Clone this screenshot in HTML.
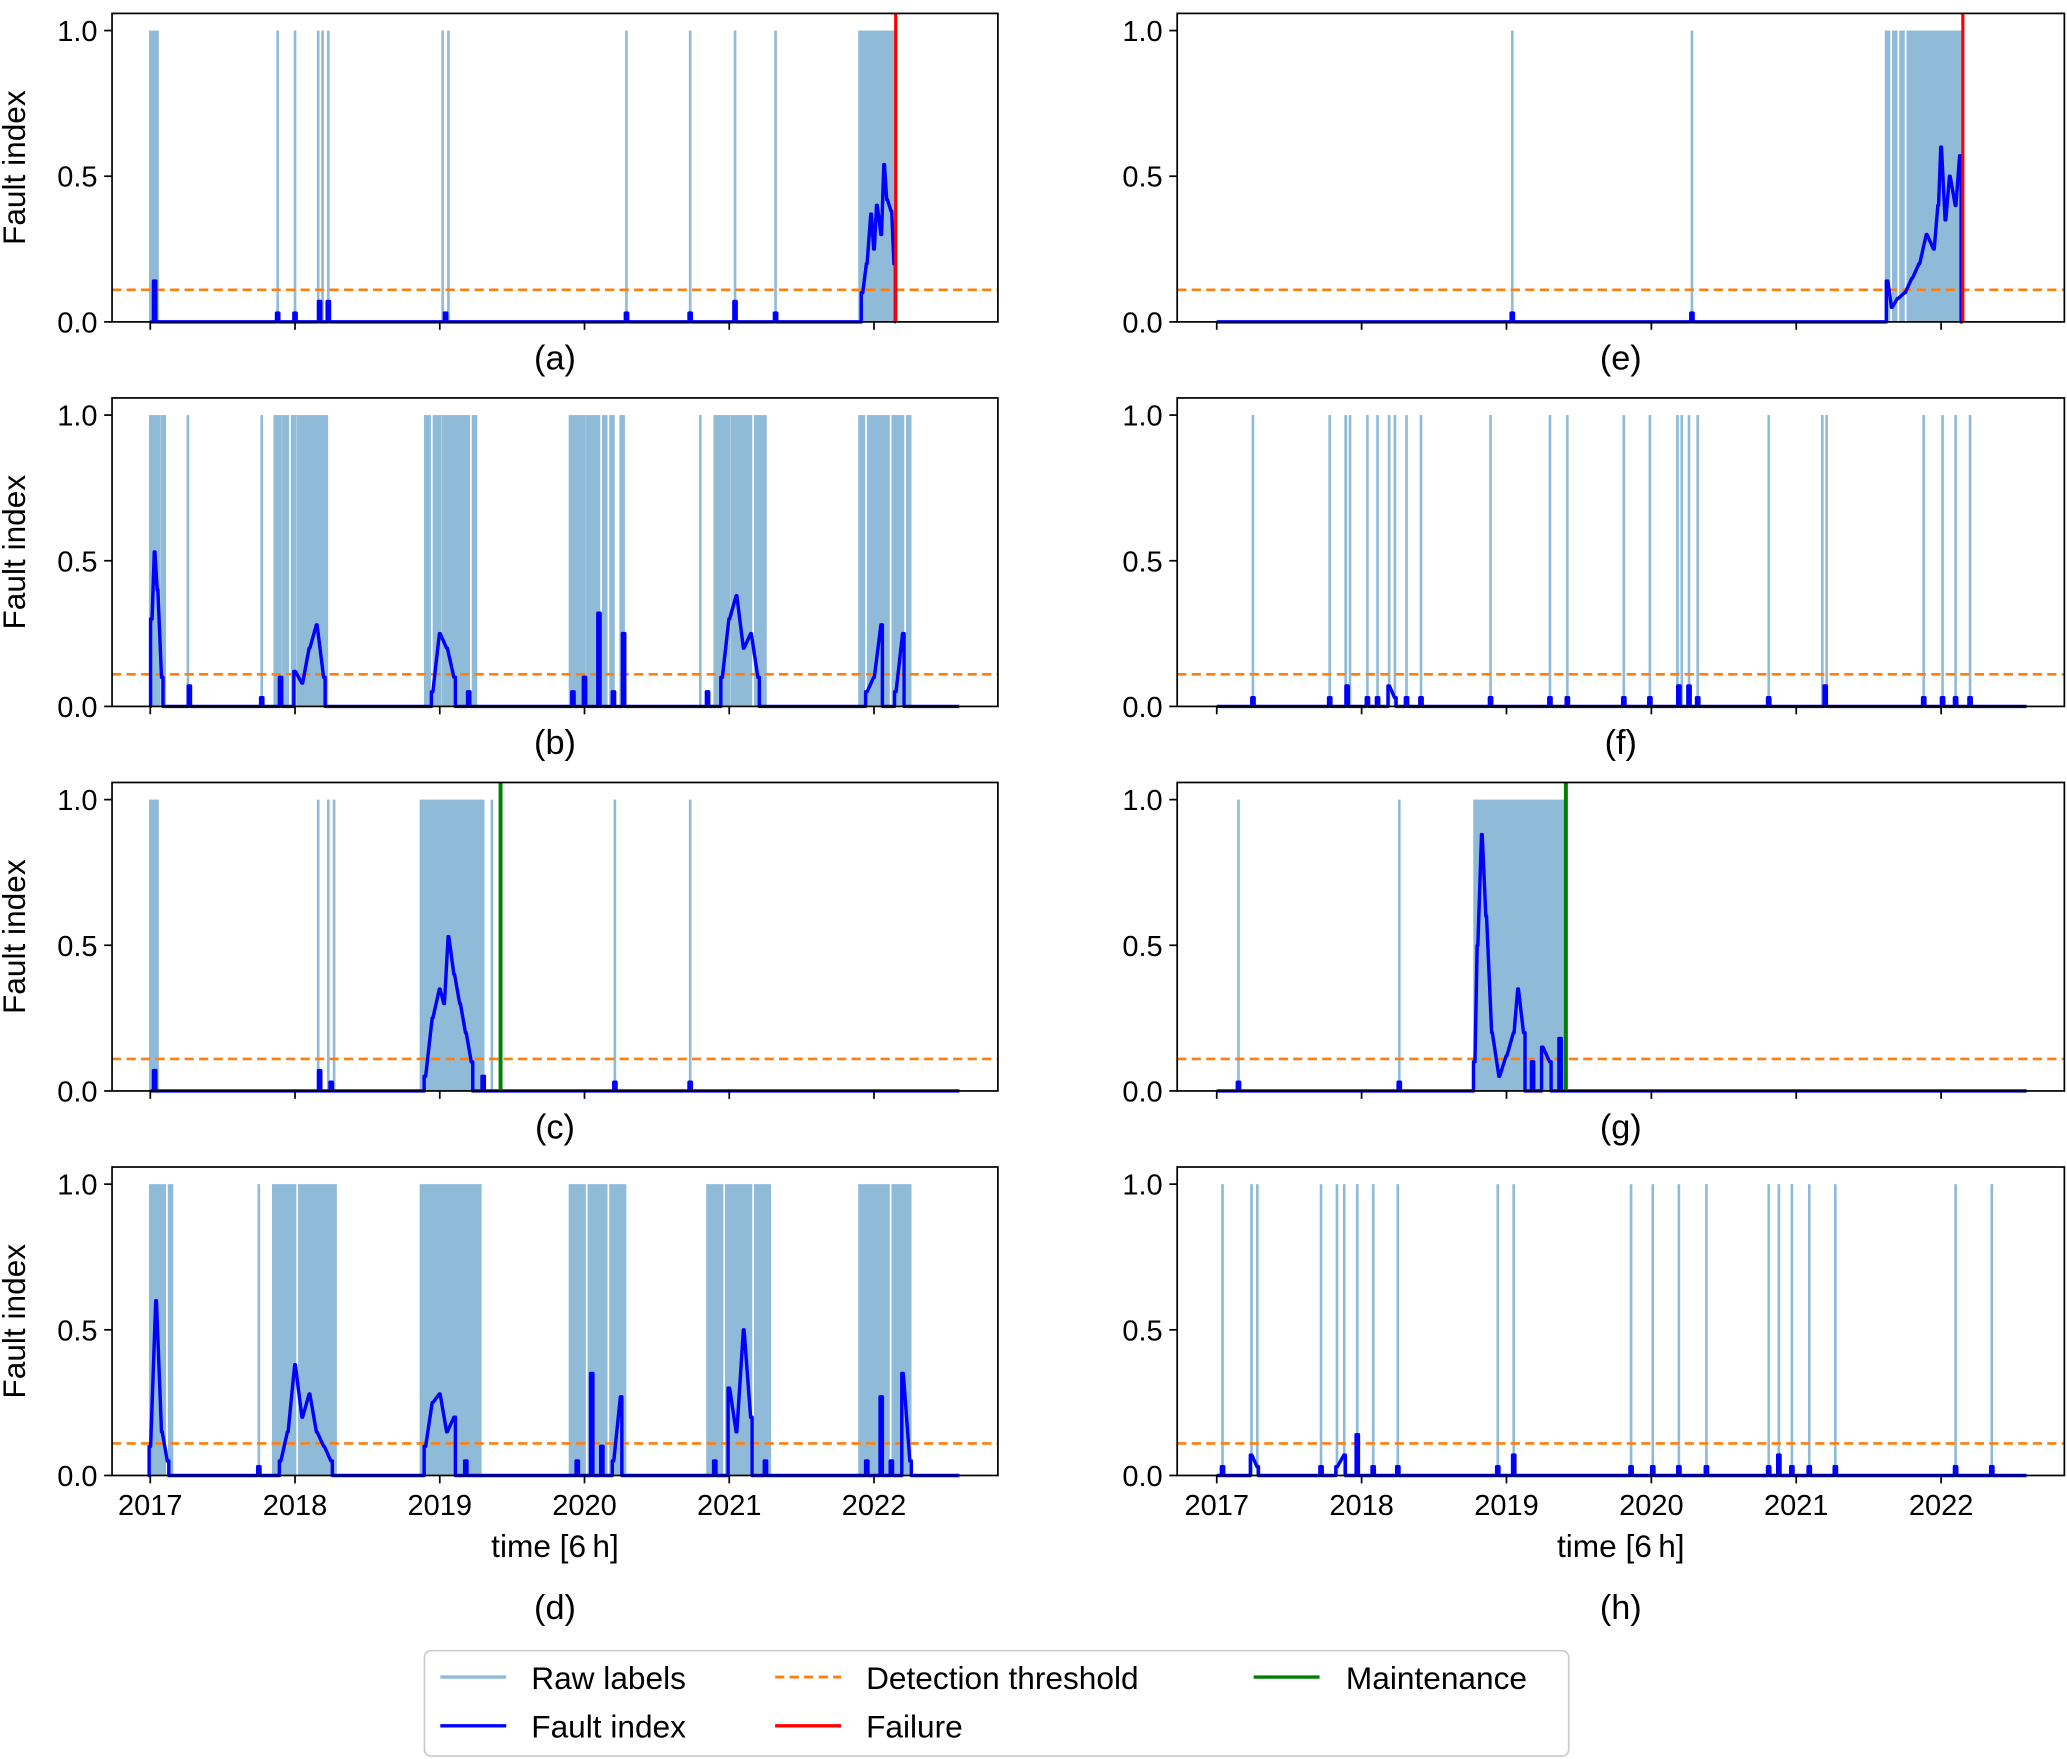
<!DOCTYPE html>
<html><head><meta charset="utf-8"><style>
html,body{margin:0;padding:0;background:#fff}
svg{display:block}
text{font-family:"Liberation Sans","DejaVu Sans",sans-serif;fill:#000}
</style></head><body>
<svg id="fig" width="2067" height="1759" viewBox="0 0 1568 1334" xmlns="http://www.w3.org/2000/svg">
<g id="panels"></g>
<g>
<rect x="322" y="1252" width="868" height="80" rx="5" fill="#fff" stroke="#ccc" stroke-width="1.3"/>
<line x1="334" y1="1272" x2="384" y2="1272" stroke="#8fbad8" stroke-width="2.6"/>
<text x="403" y="1281" font-size="24">Raw labels</text>
<line x1="334" y1="1309" x2="384" y2="1309" stroke="#0000ff" stroke-width="2.6"/>
<text x="403" y="1318" font-size="24">Fault index</text>
<line x1="588" y1="1272" x2="638" y2="1272" stroke="#ff7f0e" stroke-width="2.2" stroke-dasharray="7,4"/>
<text x="657" y="1281" font-size="24">Detection threshold</text>
<line x1="588" y1="1309" x2="638" y2="1309" stroke="#ff0000" stroke-width="2.6"/>
<text x="657" y="1318" font-size="24">Failure</text>
<line x1="951" y1="1272" x2="1001" y2="1272" stroke="#008000" stroke-width="2.6"/>
<text x="1021" y="1281" font-size="24">Maintenance</text>
</g>
</svg>
<script>
const years=[2017,2018,2019,2020,2021,2022];
const threshold=0.11;
const dataStart=2017.0, dataEnd=2022.59;
// panel a
const rawA=[[2017.0,2017.05],[2017.88,2017.88],[2018.0,2018.0],[2018.16,2018.16],[2018.19,2018.19],[2018.23,2018.23],[2019.02,2019.02],[2019.06,2019.06],[2020.29,2020.29],[2020.73,2020.73],[2021.04,2021.04],[2021.32,2021.32],[2021.9,2022.15]];
const faultTA=[2017.03,2017.88,2018.0,2018.17,2018.23,2019.04,2020.29,2020.73,2021.04,2021.32,2021.92,2021.95,2021.98,2022.0,2022.02,2022.05,2022.07,2022.09,2022.12,2022.14];
const faultVA=[0.14,0.03,0.03,0.07,0.07,0.03,0.03,0.03,0.07,0.03,0.1,0.2,0.37,0.25,0.4,0.3,0.54,0.42,0.38,0.2];
// panel b
const rawB=[[2017.0,2017.06],[2017.08,2017.1],[2017.26,2017.26],[2017.77,2017.77],[2017.86,2017.9],[2017.92,2017.95],[2017.98,2018.0],[2018.02,2018.22],[2018.9,2018.93],[2018.96,2019.0],[2019.02,2019.2],[2019.23,2019.25],[2019.9,2020.0],[2020.02,2020.1],[2020.13,2020.15],[2020.18,2020.2],[2020.25,2020.27],[2020.8,2020.8],[2020.9,2021.0],[2021.02,2021.15],[2021.18,2021.25],[2021.9,2021.93],[2021.96,2022.1],[2022.13,2022.2],[2022.23,2022.25]];
const faultTB=[2017.01,2017.03,2017.05,2017.08,2017.27,2017.77,2017.9,2018.0,2018.05,2018.1,2018.15,2018.2,2018.95,2019.0,2019.05,2019.1,2019.2,2019.92,2020.0,2020.1,2020.2,2020.27,2020.85,2020.95,2021.0,2021.05,2021.1,2021.15,2021.2,2021.95,2022.0,2022.05,2022.15,2022.2];
const faultVB=[0.3,0.53,0.4,0.1,0.07,0.03,0.1,0.12,0.08,0.2,0.28,0.1,0.05,0.25,0.2,0.1,0.05,0.05,0.1,0.32,0.05,0.25,0.05,0.1,0.3,0.38,0.2,0.25,0.1,0.05,0.1,0.28,0.05,0.25];
// panel c
const rawC=[[2017.0,2017.05],[2018.16,2018.16],[2018.23,2018.23],[2018.27,2018.27],[2018.87,2019.3],[2019.36,2019.36],[2020.21,2020.21],[2020.73,2020.73]];
const faultTC=[2017.03,2018.17,2018.25,2018.9,2018.95,2019.0,2019.03,2019.06,2019.1,2019.14,2019.18,2019.22,2019.3,2020.21,2020.73];
const faultVC=[0.07,0.07,0.03,0.05,0.25,0.35,0.3,0.53,0.4,0.3,0.2,0.1,0.05,0.03,0.03];
// panel d
const rawD=[[2017.0,2017.1],[2017.13,2017.15],[2017.75,2017.75],[2017.85,2018.0],[2018.03,2018.28],[2018.87,2019.28],[2019.9,2020.0],[2020.03,2020.15],[2020.18,2020.28],[2020.85,2020.95],[2020.98,2021.15],[2021.18,2021.28],[2021.9,2022.1],[2022.13,2022.25]];
const faultTD=[2017.0,2017.04,2017.08,2017.12,2017.75,2017.9,2017.95,2018.0,2018.05,2018.1,2018.15,2018.2,2018.25,2018.9,2018.95,2019.0,2019.05,2019.1,2019.18,2019.95,2020.05,2020.12,2020.2,2020.25,2020.9,2021.0,2021.05,2021.1,2021.15,2021.25,2021.95,2022.05,2022.12,2022.2,2022.25];
const faultVD=[0.1,0.6,0.15,0.05,0.03,0.05,0.15,0.38,0.2,0.28,0.15,0.1,0.05,0.1,0.25,0.28,0.15,0.2,0.05,0.05,0.35,0.1,0.05,0.27,0.05,0.3,0.15,0.5,0.2,0.05,0.05,0.27,0.05,0.35,0.05];
// panel e
const rawE=[[2019.04,2019.04],[2020.28,2020.28],[2021.62,2021.64],[2021.67,2021.69],[2021.72,2021.74],[2021.77,2022.15]];
const faultTE=[2019.04,2020.28,2021.63,2021.66,2021.7,2021.75,2021.8,2021.85,2021.9,2021.95,2021.98,2022.0,2022.03,2022.06,2022.1,2022.13];
const faultVE=[0.03,0.03,0.14,0.05,0.08,0.1,0.15,0.2,0.3,0.25,0.4,0.6,0.35,0.5,0.4,0.57];
// panel f
const rawF=[[2017.25,2017.25],[2017.78,2017.78],[2017.89,2017.89],[2017.92,2017.92],[2018.04,2018.04],[2018.11,2018.11],[2018.19,2018.19],[2018.23,2018.23],[2018.31,2018.31],[2018.41,2018.41],[2018.89,2018.89],[2019.3,2019.3],[2019.42,2019.42],[2019.81,2019.81],[2019.99,2019.99],[2020.18,2020.18],[2020.21,2020.21],[2020.26,2020.26],[2020.32,2020.32],[2020.81,2020.81],[2021.18,2021.18],[2021.21,2021.21],[2021.88,2021.88],[2022.01,2022.01],[2022.1,2022.1],[2022.2,2022.2]];
const faultTF=[2017.25,2017.78,2017.9,2018.04,2018.11,2018.19,2018.23,2018.31,2018.41,2018.89,2019.3,2019.42,2019.81,2019.99,2020.19,2020.26,2020.32,2020.81,2021.2,2021.88,2022.01,2022.1,2022.2];
const faultVF=[0.03,0.03,0.07,0.03,0.03,0.07,0.03,0.03,0.03,0.03,0.03,0.03,0.03,0.03,0.07,0.07,0.03,0.03,0.07,0.03,0.03,0.03,0.03];
// panel g
const rawG=[[2017.15,2017.15],[2018.26,2018.26],[2018.78,2019.41]];
const faultTG=[2017.15,2018.26,2018.78,2018.8,2018.83,2018.86,2018.9,2018.95,2019.0,2019.05,2019.08,2019.12,2019.18,2019.25,2019.3,2019.37];
const faultVG=[0.03,0.03,0.1,0.5,0.88,0.6,0.2,0.05,0.12,0.2,0.35,0.2,0.1,0.15,0.1,0.18];
// panel h
const rawH=[[2017.04,2017.04],[2017.24,2017.24],[2017.28,2017.28],[2017.72,2017.72],[2017.83,2017.83],[2017.88,2017.88],[2017.97,2017.97],[2018.08,2018.08],[2018.25,2018.25],[2018.94,2018.94],[2019.05,2019.05],[2019.86,2019.86],[2020.01,2020.01],[2020.19,2020.19],[2020.38,2020.38],[2020.81,2020.81],[2020.88,2020.88],[2020.97,2020.97],[2021.09,2021.09],[2021.27,2021.27],[2022.1,2022.1],[2022.35,2022.35]];
const faultTH=[2017.04,2017.24,2017.28,2017.72,2017.83,2017.88,2017.97,2018.08,2018.25,2018.94,2019.05,2019.86,2020.01,2020.19,2020.38,2020.81,2020.88,2020.97,2021.09,2021.27,2022.1,2022.35];
const faultVH=[0.03,0.07,0.03,0.03,0.03,0.07,0.14,0.03,0.03,0.03,0.07,0.03,0.03,0.03,0.03,0.03,0.07,0.03,0.03,0.03,0.03,0.03];
const failureA=2022.15, failureE=2022.15, maintC=2019.42, maintG=2019.41;

const panels=[
 {id:'a',col:0,row:0,raw:rawA,ft:faultTA,fv:faultVA,fail:failureA},
 {id:'b',col:0,row:1,raw:rawB,ft:faultTB,fv:faultVB},
 {id:'c',col:0,row:2,raw:rawC,ft:faultTC,fv:faultVC,maint:maintC},
 {id:'d',col:0,row:3,raw:rawD,ft:faultTD,fv:faultVD},
 {id:'e',col:1,row:0,raw:rawE,ft:faultTE,fv:faultVE,fail:failureE},
 {id:'f',col:1,row:1,raw:rawF,ft:faultTF,fv:faultVF},
 {id:'g',col:1,row:2,raw:rawG,ft:faultTG,fv:faultVG,maint:maintG},
 {id:'h',col:1,row:3,raw:rawH,ft:faultTH,fv:faultVH}
];
const NS='http://www.w3.org/2000/svg';
function mk(tag,attrs,parent){const e=document.createElementNS(NS,tag);for(const k in attrs)e.setAttribute(k,attrs[k]);parent.appendChild(e);return e;}
const root=document.getElementById('panels');
panels.forEach(p=>{
 const L=p.col===0?85:893, R=p.col===0?757:1566;
 const x0=p.col===0?114:923, pxYear=p.col===0?109.8:109.9;
 const bottom=244+p.row*291.7, top=bottom-234;
 const X=t=>x0+(t-2017)*pxYear;
 const Y=v=>bottom-v*221;
 const g=mk('g',{},root);
 
 
 p.raw.forEach(iv=>{
  const r=mk('rect',{x:X(iv[0])-1,y:Y(1),width:Math.max(2,X(iv[1])-X(iv[0])+2),height:Y(0)-Y(1),fill:'#8fbad8'},g);
  
  
 });
 const th=mk('line',{x1:L,x2:R,y1:Y(threshold),y2:Y(threshold),stroke:'#ff7f0e','stroke-width':2,'stroke-dasharray':'7,4'},g);
 
 
 const end=p.fail?p.fail:dataEnd;
 const w=0.008;
 let pts=[[X(dataStart),Y(0)]];
 const n=p.ft.length;
 p.ft.forEach((t,i)=>{
  const v=p.fv[i];
  const prevNear=i>0 && t-p.ft[i-1]<0.055;
  const nextNear=i<n-1 && p.ft[i+1]-t<0.055;
  if(!prevNear) pts.push([X(t-w),Y(0)],[X(t-w),Y(v)]);
  else pts.push([X(t-w*0.3),Y(v)]);
  if(!nextNear) pts.push([X(t+w),Y(v)],[X(t+w),Y(0)]);
  else pts.push([X(t+w*0.3),Y(v)]);
 });
 pts.push([X(end),Y(0)]);
 const fl=mk('polyline',{points:pts.map(q=>q.join(',')).join(' '),fill:'none',stroke:'#0000ff','stroke-width':2.6,'stroke-linejoin':'round'},g);
 
 
 if(p.fail){const f=mk('line',{x1:X(p.fail),x2:X(p.fail),y1:top,y2:bottom,stroke:'#ff0000','stroke-width':2.4},g);
  
  }
 if(p.maint){const m=mk('line',{x1:X(p.maint),x2:X(p.maint),y1:top,y2:bottom,stroke:'#008000','stroke-width':3},g);
  
  }
 const fr=mk('rect',{x:L,y:top,width:R-L,height:bottom-top,fill:'none',stroke:'#000','stroke-width':1.3},g);
 
 
 [0,0.5,1].forEach(v=>{
  mk('line',{x1:L-6,x2:L,y1:Y(v),y2:Y(v),stroke:'#000','stroke-width':1.3},g);
  const t=mk('text',{x:L-11,y:Y(v)+8,'text-anchor':'end','font-size':22},g);
  t.textContent=v.toFixed(1);
  
  
 });
 years.forEach(yr=>{
  mk('line',{x1:X(yr),x2:X(yr),y1:bottom,y2:bottom+6,stroke:'#000','stroke-width':1.3},g);
  if(p.row===3){const t=mk('text',{x:X(yr),y:bottom+30,'text-anchor':'middle','font-size':22},g);
   t.textContent=yr;
   
   }
 });
 if(p.col===0){const yl=mk('text',{x:0,y:0,'text-anchor':'middle','font-size':24,transform:`translate(19,${(top+bottom)/2}) rotate(-90)`},g);
  yl.textContent='Fault index';
  
  }
 const cx=(L+R)/2;
 if(p.row===3){const xl=mk('text',{x:cx,y:1181,'text-anchor':'middle','font-size':24},g);
  xl.textContent='time [6\u2009h]';
  
  }
 const ly=p.row===3?1228:bottom+36;
 const pl=mk('text',{x:cx,y:ly,'text-anchor':'middle','font-size':26},g);
 pl.textContent='('+p.id+')';
 
 
});
</script>
</body></html>
